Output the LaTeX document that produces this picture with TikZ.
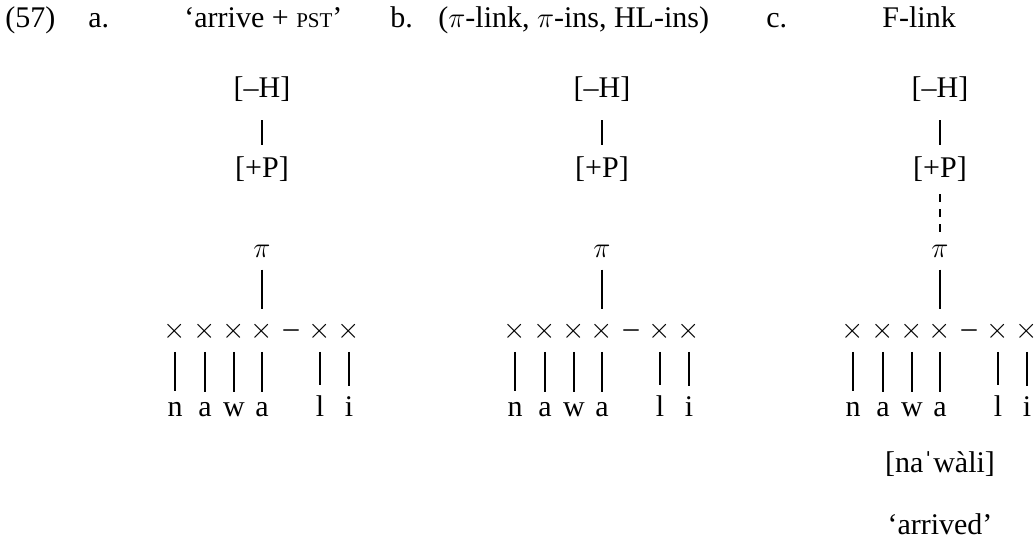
\documentclass[tikz,border=0pt]{standalone}
\usepackage{fontspec}
\setmainfont{Liberation Serif}
\begin{document}
\begin{tikzpicture}[
    x=0.5pt, y=-0.5pt,
    every node/.style={inner sep=0pt, font=\fontsize{15}{18}\selectfont},
    head/.style={anchor=base west},
    seg/.style={anchor=base},
    slot/.style={anchor=center},
    bar/.style={line width=1.2pt},
    flink/.style={line width=1.1pt, dash pattern=on 4pt off 3.5pt}
]
\useasboundingbox (0,0) rectangle (1035,544);

%% Kopfzeile
\node[head] (num)   at (5,28)   {(57)};
\node[head] (laba)  at (88,28)  {a.};
\node[head] (heada) at (184,28) {‘arrive + {\fontsize{10.5}{12}\selectfont PST}’};
\node[head] (labb)  at (390,28) {b.};
\node[head] (headb) at (438,28) {(\(\pi\)-link, \(\pi\)-ins, HL-ins)};
\node[head] (labc)  at (766,28) {c.};
\node[head] (headc) at (882,28) {F-link};

%% Baeume
\foreach \t/\cx in {a/262,b/602,c/940}{
  \node[seg]  (\t-H)  at (\cx,98)  {[–H]};
  \node[seg]  (\t-P)  at (\cx,178) {[+P]};
  \node[slot] (\t-pi) at (\cx,251) {$\pi$};
  \draw[bar, shorten <=9pt, shorten >=6pt] (\t-H) -- (\t-P);
  \foreach \i/\dx/\l in {1/-87/n,2/-57/a,3/-28/w,4/0/a,5/58/l,6/87/i}{
    \node[slot] (\t-x\i) at (\cx+\dx,331) {$\times$};
    \node[seg]  (\t-s\i) at (\cx+\dx,417) {\l};
    \draw[bar, shorten <=5.5pt, shorten >=5.5pt] (\t-x\i) -- (\t-s\i);
  }
  \node[seg] (\t-sep) at (\cx+29,338) {–};
  \draw[bar, shorten <=6pt, shorten >=6pt] (\t-pi) -- (\t-x4);
}

%% F-link
\draw[flink, shorten <=6pt, shorten >=6pt] (c-P) -- (c-pi);

%% Glosse
\node[seg] (form)  at (940,473) {[naˈwàli]};
\node[seg] (trans) at (940,535) {‘arrived’};
\end{tikzpicture}
\end{document}
